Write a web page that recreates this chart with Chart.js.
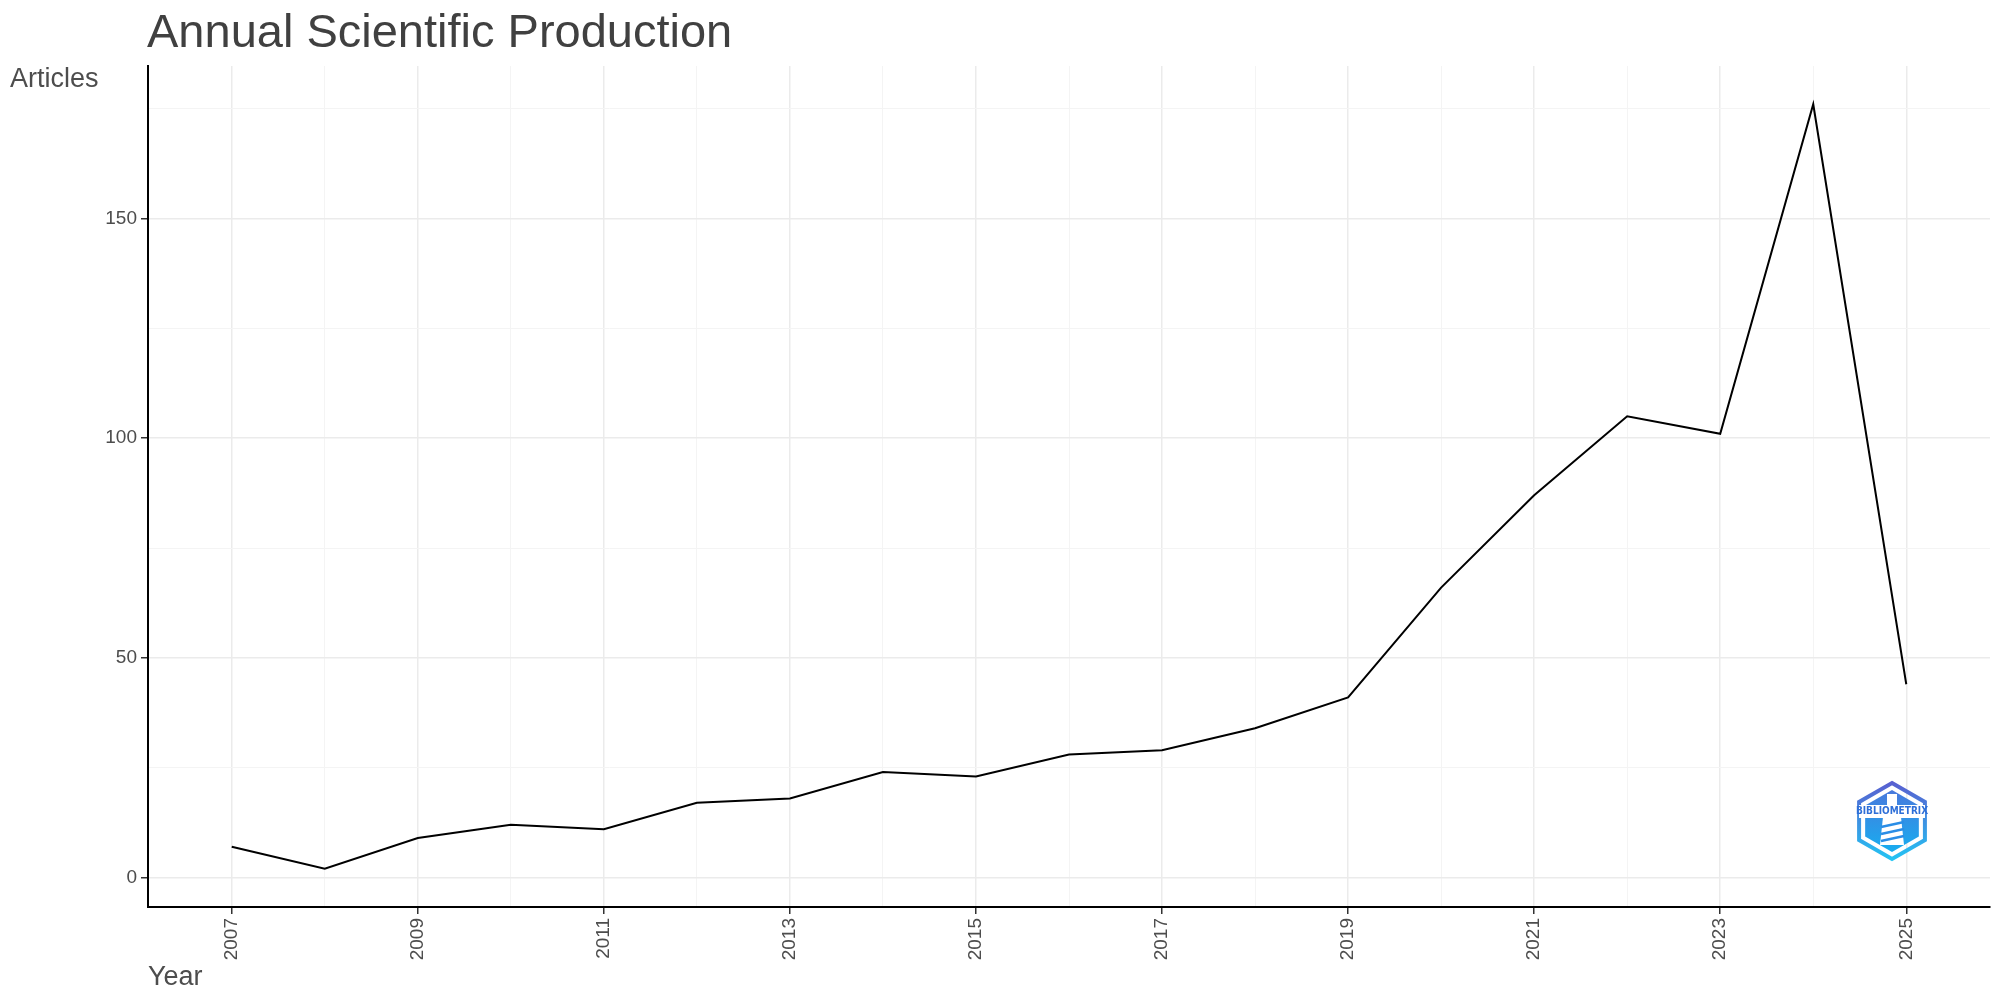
<!DOCTYPE html>
<html lang="en">
<head>
<meta charset="UTF-8">
<title>Annual Scientific Production</title>
<script src="https://cdn.jsdelivr.net/npm/chart.js@4.4.1/dist/chart.umd.min.js"></script>
<style>
    html, body { margin: 0; padding: 0; background: #fff; }
    #wrap { width: 2000px; height: 1000px; }
</style>
</head>
<body>
<div id="wrap"><canvas id="myChart" width="2000" height="1000"></canvas></div>

<script>
    // data
    const years = [2007, 2008, 2009, 2010, 2011, 2012, 2013, 2014, 2015, 2016, 2017, 2018, 2019, 2020, 2021, 2022, 2023, 2024, 2025];
    const articles = [7, 2, 9, 12, 11, 17, 18, 24, 23, 28, 29, 34, 41, 66, 87, 105, 101, 176, 44];
    const yearTicks = [2007, 2009, 2011, 2013, 2015, 2017, 2019, 2021, 2023, 2025];
    const articleTicks = [0, 50, 100, 150];

    // ggplot style: major breaks + minor breaks half way between them
    function withMinor(major) {
        const step = major[1] - major[0];
        const out = [];
        for (let i = 0; i < major.length; i++) {
            out.push(major[i]);
            out.push(major[i] + step / 2);
        }
        return out;
    }
    const xGrid = withMinor(yearTicks).filter(v => v <= yearTicks[yearTicks.length - 1]);
    const yGrid = withMinor(articleTicks);

    // 5% expansion like ggplot
    const xSpan = years[years.length - 1] - years[0];
    const ySpan = Math.max(...articles) - Math.min(...articles);

    const labelColor = '#4d4d4d';

    function hexPath(ctx, cx, cy, r) {
        ctx.beginPath();
        for (let i = 0; i < 6; i++) {
            const a = Math.PI / 180 * (60 * i - 90);
            const px = cx + r * Math.cos(a), py = cy + r * Math.sin(a);
            if (i) ctx.lineTo(px, py); else ctx.moveTo(px, py);
        }
        ctx.closePath();
    }

    const textPlugin = {
        id: 'textPlugin',
        afterDraw(chart) {
            const ctx = chart.ctx;
            const area = chart.chartArea;
            ctx.save();
            ctx.textBaseline = 'alphabetic';
            ctx.textAlign = 'left';
            ctx.fillStyle = '#404040';
            ctx.font = '47px "Liberation Sans", Arial, sans-serif';
            ctx.fillText('Annual Scientific Production', area.left - 1, 47);
            ctx.fillStyle = labelColor;
            ctx.font = '27px "Liberation Sans", Arial, sans-serif';
            ctx.fillText('Articles', 10, 87);
            ctx.fillText('Year', area.left, 985);

            // bibliometrix logo, bottom right of the panel
            const cx = area.right - 98, cy = area.bottom - 86;
            let g = ctx.createLinearGradient(0, cy - 41, 0, cy + 41);
            g.addColorStop(0, '#5a5ccf');
            g.addColorStop(1, '#22c6f4');
            hexPath(ctx, cx, cy, 38);
            ctx.lineWidth = 4;
            ctx.strokeStyle = g;
            ctx.stroke();
            g = ctx.createLinearGradient(0, cy - 32, 0, cy + 32);
            g.addColorStop(0, '#4a78dc');
            g.addColorStop(1, '#16aef0');
            hexPath(ctx, cx, cy, 31);
            ctx.fillStyle = g;
            ctx.fill();
            // tower
            ctx.fillStyle = '#ffffff';
            ctx.fillRect(cx - 5, cy - 27, 10, 14);
            ctx.beginPath();
            ctx.moveTo(cx - 9, cy - 4);
            ctx.lineTo(cx + 9, cy - 4);
            ctx.lineTo(cx + 12, cy + 24);
            ctx.lineTo(cx - 12, cy + 24);
            ctx.closePath();
            ctx.fill();
            ctx.strokeStyle = '#2a8de6';
            ctx.lineWidth = 2.5;
            for (let k = 0; k < 3; k++) {
                ctx.beginPath();
                ctx.moveTo(cx - 11, cy + 6 + k * 7);
                ctx.lineTo(cx + 12, cy + 1 + k * 7);
                ctx.stroke();
            }
            // banner
            ctx.fillStyle = '#ffffff';
            ctx.fillRect(cx - 33, cy - 16, 66, 13);
            ctx.fillStyle = '#2e6fd8';
            ctx.font = 'bold 10px "DejaVu Sans Condensed", "DejaVu Sans", sans-serif';
            ctx.textAlign = 'center';
            ctx.textBaseline = 'middle';
            ctx.fillText('BIBLIOMETRIX', cx, cy - 9.5);
            ctx.restore();
        }
    };

    const ctx = document.getElementById('myChart').getContext('2d');
    const myChart = new Chart(ctx, {
        type: 'line',
        data: {
            datasets: [{
                label: 'Articles',
                data: years.map((y, i) => ({ x: y, y: articles[i] })),
                borderColor: '#000000',
                borderWidth: 2,
                pointRadius: 0,
                tension: 0,
                fill: false
            }]
        },
        options: {
            responsive: false,
            animation: false,
            layout: { padding: { left: 88, right: 10, top: 66, bottom: 0 } },
            plugins: {
                legend: { display: false },
                title: { display: false },
                tooltip: { enabled: false }
            },
            scales: {
                x: {
                    type: 'linear',
                    min: years[0] - xSpan * 0.05,
                    max: years[years.length - 1] + xSpan * 0.05,
                    afterBuildTicks: scale => { scale.ticks = xGrid.map(v => ({ value: v })); },
                    afterFit: scale => { scale.height = 93; },
                    ticks: {
                        autoSkip: false,
                        minRotation: 90,
                        maxRotation: 90,
                        padding: 4,
                        color: labelColor,
                        font: { family: '"Liberation Sans", Arial, sans-serif', size: 19 },
                        callback: v => yearTicks.includes(v) ? String(v) : ''
                    },
                    grid: {
                        color: c => yearTicks.includes(c.tick && c.tick.value) ? '#ebebeb' : '#f4f4f4',
                        lineWidth: c => yearTicks.includes(c.tick && c.tick.value) ? 1.5 : 1,
                        tickColor: c => yearTicks.includes(c.tick && c.tick.value) ? '#333333' : 'rgba(0,0,0,0)',
                        tickWidth: 1.5,
                        tickLength: 7
                    },
                    border: { display: true, color: '#000000', width: 2 }
                },
                y: {
                    type: 'linear',
                    min: Math.min(...articles) - ySpan * 0.05,
                    max: Math.max(...articles) + ySpan * 0.05,
                    afterBuildTicks: scale => { scale.ticks = yGrid.map(v => ({ value: v })); },
                    afterFit: scale => { scale.width = 60; },
                    ticks: {
                        autoSkip: false,
                        padding: 4,
                        color: labelColor,
                        font: { family: '"Liberation Sans", Arial, sans-serif', size: 19 },
                        callback: v => articleTicks.includes(v) ? String(v) : ''
                    },
                    grid: {
                        color: c => articleTicks.includes(c.tick && c.tick.value) ? '#ebebeb' : '#f4f4f4',
                        lineWidth: c => articleTicks.includes(c.tick && c.tick.value) ? 1.5 : 1,
                        tickColor: c => articleTicks.includes(c.tick && c.tick.value) ? '#333333' : 'rgba(0,0,0,0)',
                        tickWidth: 1.5,
                        tickLength: 7
                    },
                    border: { display: true, color: '#000000', width: 2 }
                }
            }
        },
        plugins: [textPlugin]
    });
</script>
</body>
</html>
